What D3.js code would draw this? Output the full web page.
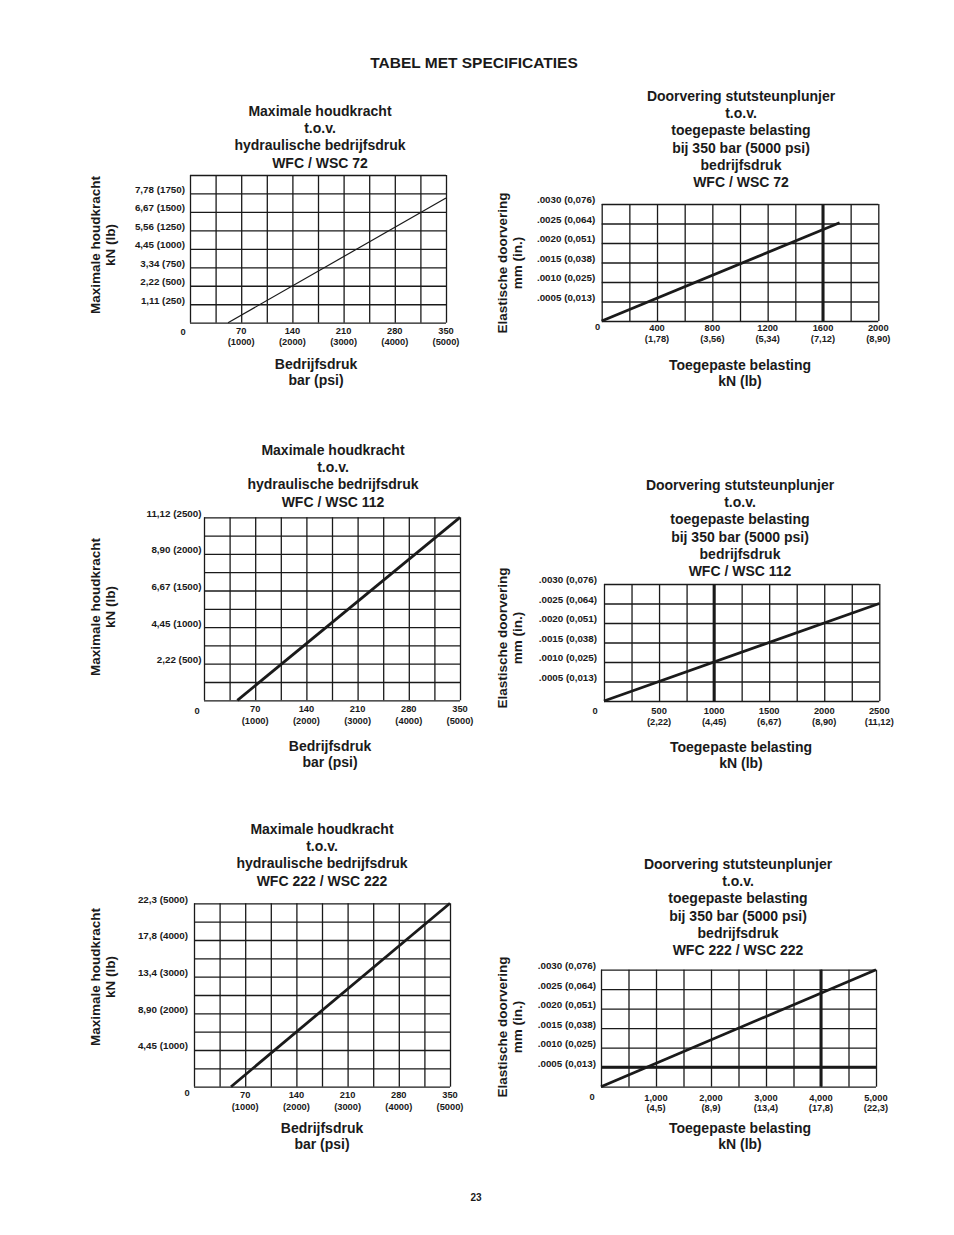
<!DOCTYPE html>
<html><head><meta charset="utf-8">
<script src="https://cdn.jsdelivr.net/npm/d3@7"></script>
<style>
body{margin:0;background:#fff}
svg{display:block}
text{font-family:"Liberation Sans",Arial,Helvetica,sans-serif;font-weight:bold;fill:#1a1a1a}
</style>
</head><body>
<svg id="c" width="954" height="1235"></svg>
<script>
// ---------- DATA ----------
const pageTitle = "TABEL MET SPECIFICATIES";
const pageNumber = "23";

// Pressure axis (holding-force charts)
const pressureTicks = [70, 140, 210, 280, 350];
const pressurePsi = ["(1000)", "(2000)", "(3000)", "(4000)", "(5000)"];

// Holding force WFC / WSC 72
const hold72Pressure = [52, 350];
const hold72Force = [0, 1688];
const hold72YTicks = [250, 500, 750, 1000, 1250, 1500, 1750];
const hold72YLabels = ["1,11 (250)", "2,22 (500)", "3,34 (750)", "4,45 (1000)", "5,56 (1250)", "6,67 (1500)", "7,78 (1750)"];

// Holding force WFC / WSC 112
const hold112Pressure = [45.6, 350];
const hold112Force = [0, 2500];
const hold112YTicks = [500, 1000, 1500, 2000, 2500];
const hold112YLabels = ["2,22 (500)", "4,45 (1000)", "6,67 (1500)", "8,90 (2000)", "11,12 (2500)"];

// Holding force WFC 222 / WSC 222
const hold222Pressure = [50.6, 350];
const hold222Force = [0, 5000];
const hold222YTicks = [1000, 2000, 3000, 4000, 5000];
const hold222YLabels = ["4,45 (1000)", "8,90 (2000)", "13,4 (3000)", "17,8 (4000)", "22,3 (5000)"];

// Deflection axis (in.)
const deflTicks = [0.0005, 0.0010, 0.0015, 0.0020, 0.0025, 0.0030];
const deflLabels = [".0005 (0,013)", ".0010 (0,025)", ".0015 (0,038)", ".0020 (0,051)", ".0025 (0,064)", ".0030 (0,076)"];

// Deflection WFC / WSC 72
const defl72Load = [0, 1720];
const defl72Defl = [0, 0.00252];
const defl72XTicks = [400, 800, 1200, 1600, 2000];
const defl72XLabels = ["400", "800", "1200", "1600", "2000"];
const defl72XSub = ["(1,78)", "(3,56)", "(5,34)", "(7,12)", "(8,90)"];
const defl72Marker = [1600];

// Deflection WFC / WSC 112
const defl112Load = [0, 2500];
const defl112Defl = [0, 0.0025];
const defl112XTicks = [500, 1000, 1500, 2000, 2500];
const defl112XLabels = ["500", "1000", "1500", "2000", "2500"];
const defl112XSub = ["(2,22)", "(4,45)", "(6,67)", "(8,90)", "(11,12)"];
const defl112Marker = [1000];

// Deflection WFC 222 / WSC 222
const defl222Load = [0, 5000];
const defl222Defl = [0, 0.0030];
const defl222XTicks = [1000, 2000, 3000, 4000, 5000];
const defl222XLabels = ["1,000", "2,000", "3,000", "4,000", "5,000"];
const defl222XSub = ["(4,5)", "(8,9)", "(13,4)", "(17,8)", "(22,3)"];
const defl222Marker = [4000];
const defl222MarkerY = [0.0005];

const holdTitle = ["Maximale houdkracht", "t.o.v.", "hydraulische bedrijfsdruk"];
const deflTitle = ["Doorvering stutsteunplunjer", "t.o.v.", "toegepaste belasting", "bij 350 bar (5000 psi)", "bedrijfsdruk"];
const holdXTitle = ["Bedrijfsdruk", "bar (psi)"];
const holdYTitle = ["Maximale houdkracht", "kN (lb)"];
const deflXTitle = ["Toegepaste belasting", "kN (lb)"];
const deflYTitle = ["Elastische doorvering", "mm (in.)"];

// ---------- DRAW ----------
const svg = d3.select("#c");
const INK = "#1a1a1a";

svg.append("text").attr("x", 474).attr("y", 63).attr("dy", "0.35em")
  .attr("text-anchor", "middle").style("font-size", "15.5px").text(pageTitle);
svg.append("text").attr("x", 476).attr("y", 1197).attr("dy", "0.35em")
  .attr("text-anchor", "middle").style("font-size", "10px").text(pageNumber);

function lines(g, arr, cx, cy, step, size) {
  arr.forEach((t, i) => {
    g.append("text").attr("x", cx).attr("y", cy + i * step).attr("dy", "0.35em")
      .attr("text-anchor", "middle").style("font-size", size + "px").text(t);
  });
}

function drawChart(c) {
  const g = svg.append("g");
  const b = c.box;
  const x = d3.scaleLinear().domain(c.xDomain).range([b.x0, b.x1]);
  const y = d3.scaleLinear().domain(c.yDomain).range([b.y1, b.y0]);
  const w = b.x1 - b.x0, h = b.y1 - b.y0;
  const xs = d3.range(c.xDivs + 1).map(i => c.xDomain[0] + i * (c.xDomain[1] - c.xDomain[0]) / c.xDivs);
  const ys = d3.range(c.yDivs + 1).map(i => c.yDomain[0] + i * (c.yDomain[1] - c.yDomain[0]) / c.yDivs);

  // grid via axes
  const gx = g.append("g").attr("transform", `translate(0,${b.y1})`)
    .call(d3.axisBottom(x).tickValues(xs).tickSize(-h).tickFormat(""));
  const gy = g.append("g").attr("transform", `translate(${b.x0},0)`)
    .call(d3.axisLeft(y).tickValues(ys).tickSize(-w).tickFormat(""));
  [gx, gy].forEach(a => {
    a.select(".domain").remove();
    a.selectAll("line").attr("stroke", INK).attr("stroke-width", c.gridW);
  });

  // thick marker lines
  (c.markX || []).forEach(v => {
    g.append("line").attr("x1", x(v)).attr("x2", x(v)).attr("y1", b.y0).attr("y2", b.y1)
      .attr("stroke", INK).attr("stroke-width", 3);
  });
  (c.markY || []).forEach(v => {
    g.append("line").attr("x1", b.x0).attr("x2", b.x1).attr("y1", y(v)).attr("y2", y(v))
      .attr("stroke", INK).attr("stroke-width", 3);
  });

  // data line
  const pts = c.lx.map((v, i) => [v, c.ly[i]]);
  g.append("path").datum(pts)
    .attr("d", d3.line().x(d => x(d[0])).y(d => y(d[1])))
    .attr("fill", "none").attr("stroke", INK).attr("stroke-width", c.lineW);

  // x tick labels
  c.xTicks.forEach((v, i) => {
    g.append("text").attr("x", x(v)).attr("y", b.y1 + c.xl1).attr("dy", "0.35em")
      .attr("text-anchor", "middle").style("font-size", c.xFont + "px").text(c.xLabels[i]);
    g.append("text").attr("x", x(v)).attr("y", b.y1 + c.xl2).attr("dy", "0.35em")
      .attr("text-anchor", "middle").style("font-size", c.xFont + "px").text(c.xSub[i]);
  });
  // zero
  g.append("text").attr("x", b.x0 + c.zero[0]).attr("y", b.y1 + c.zero[1]).attr("dy", "0.35em")
    .attr("text-anchor", "middle").style("font-size", c.xFont + "px").text("0");

  // y tick labels
  c.yTicks.forEach((v, i) => {
    g.append("text").attr("x", b.x0 - c.yPad).attr("y", y(v) - 4).attr("dy", "0.35em")
      .attr("text-anchor", "end").style("font-size", c.yFont + "px").text(c.yLabels[i]);
  });

  // titles
  lines(g, c.title, c.tx, c.ty, 17.2, 14);
  lines(g, c.xTitle, c.ax, c.ay, 16.5, 14);
  c.yTitle.forEach((t, i) => {
    g.append("text")
      .attr("transform", `translate(${c.yx[i]},${c.yc}) rotate(-90)`)
      .attr("dy", "0.35em").attr("text-anchor", "middle")
      .style("font-size", "13.5px").text(t);
  });
}

const XF = 9.3, YF = 9.8;

drawChart({
  box: {x0: 190, x1: 446, y0: 175, y1: 322.7},
  xDomain: [0, 350], yDomain: [0, 2000], xDivs: 10, yDivs: 8,
  lx: hold72Pressure, ly: hold72Force, lineW: 1.2, gridW: 1.3,
  xTicks: pressureTicks, xLabels: pressureTicks.map(String), xSub: pressurePsi,
  yTicks: hold72YTicks, yLabels: hold72YLabels,
  xl1: 8, xl2: 19.5, xFont: XF, yFont: YF, yPad: 5, zero: [-7, 9.5],
  title: holdTitle.concat(["WFC / WSC 72"]), tx: 320, ty: 111,
  xTitle: holdXTitle, ax: 316, ay: 364,
  yTitle: holdYTitle, yx: [95, 110], yc: 245
});

drawChart({
  box: {x0: 601.7, x1: 878.3, y0: 204, y1: 321},
  xDomain: [0, 2000], yDomain: [0, 0.003], xDivs: 10, yDivs: 6,
  lx: defl72Load, ly: defl72Defl, lineW: 2.8, gridW: 1.3,
  markX: defl72Marker,
  xTicks: defl72XTicks, xLabels: defl72XLabels, xSub: defl72XSub,
  yTicks: deflTicks, yLabels: deflLabels,
  xl1: 7, xl2: 18, xFont: XF, yFont: YF, yPad: 6.5, zero: [-4, 6],
  title: deflTitle.concat(["WFC / WSC 72"]), tx: 741, ty: 96,
  xTitle: deflXTitle, ax: 740, ay: 365,
  yTitle: deflYTitle, yx: [502, 517], yc: 263
});

drawChart({
  box: {x0: 204, x1: 460, y0: 517.3, y1: 700.3},
  xDomain: [0, 350], yDomain: [0, 2500], xDivs: 10, yDivs: 10,
  lx: hold112Pressure, ly: hold112Force, lineW: 2.8, gridW: 1.3,
  xTicks: pressureTicks, xLabels: pressureTicks.map(String), xSub: pressurePsi,
  yTicks: hold112YTicks, yLabels: hold112YLabels,
  xl1: 8, xl2: 20, xFont: XF, yFont: YF, yPad: 2.5, zero: [-7, 10],
  title: holdTitle.concat(["WFC / WSC 112"]), tx: 333, ty: 450,
  xTitle: holdXTitle, ax: 330, ay: 746,
  yTitle: holdYTitle, yx: [95, 110], yc: 607
});

drawChart({
  box: {x0: 604, x1: 879.3, y0: 584, y1: 701},
  xDomain: [0, 2500], yDomain: [0, 0.003], xDivs: 10, yDivs: 6,
  lx: defl112Load, ly: defl112Defl, lineW: 2.8, gridW: 1.3,
  markX: defl112Marker,
  xTicks: defl112XTicks, xLabels: defl112XLabels, xSub: defl112XSub,
  yTicks: deflTicks, yLabels: deflLabels,
  xl1: 10, xl2: 21, xFont: XF, yFont: YF, yPad: 7, zero: [-9, 10],
  title: deflTitle.concat(["WFC / WSC 112"]), tx: 740, ty: 485,
  xTitle: deflXTitle, ax: 741, ay: 747,
  yTitle: deflYTitle, yx: [502, 517], yc: 638
});

drawChart({
  box: {x0: 194, x1: 450, y0: 903.3, y1: 1086.7},
  xDomain: [0, 350], yDomain: [0, 5000], xDivs: 10, yDivs: 10,
  lx: hold222Pressure, ly: hold222Force, lineW: 2.8, gridW: 1.3,
  xTicks: pressureTicks, xLabels: pressureTicks.map(String), xSub: pressurePsi,
  yTicks: hold222YTicks, yLabels: hold222YLabels,
  xl1: 8, xl2: 20, xFont: XF, yFont: YF, yPad: 6, zero: [-7, 6],
  title: holdTitle.concat(["WFC 222 / WSC 222"]), tx: 322, ty: 829,
  xTitle: holdXTitle, ax: 322, ay: 1128,
  yTitle: holdYTitle, yx: [95, 110], yc: 977
});

drawChart({
  box: {x0: 601, x1: 876, y0: 969.7, y1: 1086.7},
  xDomain: [0, 5000], yDomain: [0, 0.003], xDivs: 10, yDivs: 6,
  lx: defl222Load, ly: defl222Defl, lineW: 2.8, gridW: 1.3,
  markX: defl222Marker, markY: defl222MarkerY,
  xTicks: defl222XTicks, xLabels: defl222XLabels, xSub: defl222XSub,
  yTicks: deflTicks, yLabels: deflLabels,
  xl1: 11, xl2: 21, xFont: XF, yFont: YF, yPad: 5, zero: [-9, 10],
  title: deflTitle.concat(["WFC 222 / WSC 222"]), tx: 738, ty: 864,
  xTitle: deflXTitle, ax: 740, ay: 1128,
  yTitle: deflYTitle, yx: [502, 517], yc: 1027
});
</script>
</body></html>
